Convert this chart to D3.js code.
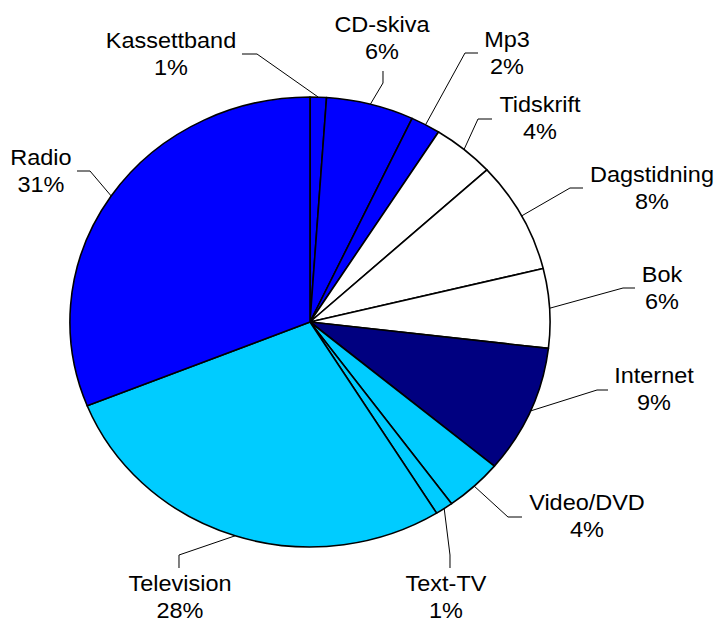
<!DOCTYPE html>
<html>
<head>
<meta charset="utf-8">
<script src="https://cdn.jsdelivr.net/npm/d3@7"></script>
<style>
  body { margin: 0; background: #fff; }
  text { font-family: "Liberation Sans", Arial, sans-serif; fill: #000; }
</style>
</head>
<body>
<div id="pie_chart"></div>
<script>
// data, clockwise from 12 o'clock
const categories = ["Kassettband", "CD-skiva", "Mp3", "Tidskrift", "Dagstidning", "Bok",
                    "Internet", "Video/DVD", "Text-TV", "Television", "Radio"];
const shares = [1.1, 5.9, 2.0, 4.2, 8.0, 5.7, 9.2, 3.9, 1.2, 27.8, 31.1];
const sliceColors = ["#0000ff", "#0000ff", "#0000ff", "#ffffff", "#ffffff", "#ffffff",
                     "#000080", "#00ccff", "#00ccff", "#00ccff", "#0000ff"];

// label layout in screen px: text centre x, first baseline, leader elbow, leader end
const labelX     = [171, 382, 507, 540, 652, 662, 654, 587, 446, 180, 41];
const labelY     = [48, 32, 47, 112, 182, 282, 383, 510, 591, 591, 165];
const elbows     = [[257, 54], [383, 83], [465, 53], [478, 119], [570, 188], [623, 288],
                    [597, 390], [508, 517], [450, 555], [179, 555], [90, 171]];
const leaderEnds = [[242, 54], [383, 71], [478, 53], [492, 119], [583, 188], [635, 288],
                    [608, 390], [522, 517], [450, 568], [179, 568], [77, 171]];

const width = 718, height = 624;
const sx = 1.067;            // the original pie is slightly stretched sideways
const cx = 310, cy = 322, radius = 225;

const svg = d3.select("#pie_chart")
	.append("svg")
	.attr("width", width)
	.attr("height", height);

const g = svg.append("g")
	.attr("transform", `scale(${sx},1)`);

const pie = d3.pie().sort(null).value(d => d);
const arcs = pie(shares);
const arc = d3.arc().innerRadius(0).outerRadius(radius);

// slices
g.append("g")
	.attr("transform", `translate(${cx / sx},${cy})`)
	.selectAll("path")
	.data(arcs)
	.join("path")
	.attr("d", arc)
	.attr("fill", (d, i) => sliceColors[i])
	.attr("stroke", "#000")
	.attr("stroke-width", 1.6)
	.attr("stroke-linejoin", "round")
	.attr("vector-effect", "non-scaling-stroke");

// leader lines
const line = d3.line();
g.append("g")
	.selectAll("path")
	.data(arcs)
	.join("path")
	.attr("d", (d, i) => {
		const a = (d.startAngle + d.endAngle) / 2;
		const p0 = [cx / sx + radius * Math.sin(a), cy - radius * Math.cos(a)];
		return line([p0, [elbows[i][0] / sx, elbows[i][1]], [leaderEnds[i][0] / sx, leaderEnds[i][1]]]);
	})
	.attr("fill", "none")
	.attr("stroke", "#000")
	.attr("stroke-width", 1)
	.attr("vector-effect", "non-scaling-stroke");

// labels
const labels = g.append("g")
	.selectAll("text")
	.data(arcs)
	.join("text")
	.attr("text-anchor", "middle")
	.style("font-size", "22px");

labels.append("tspan")
	.attr("x", (d, i) => labelX[i] / sx)
	.attr("y", (d, i) => labelY[i])
	.text((d, i) => categories[i]);

labels.append("tspan")
	.attr("x", (d, i) => labelX[i] / sx)
	.attr("y", (d, i) => labelY[i] + 27.5)
	.text(d => Math.round(d.value) + "%");
</script>
</body>
</html>
